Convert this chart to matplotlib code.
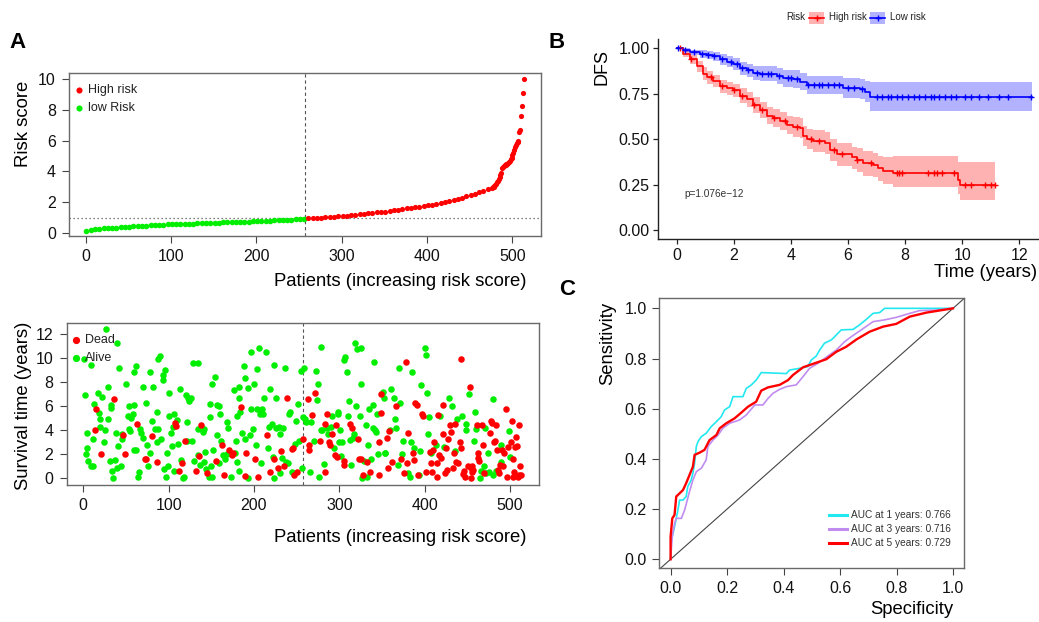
import numpy as np
import matplotlib
matplotlib.use('Agg')
import matplotlib.pyplot as plt
from matplotlib.lines import Line2D
from matplotlib.patches import Rectangle

plt.rcParams['font.family'] = ['Liberation Sans', 'DejaVu Sans']

RED = '#FF0000'
GREEN = '#00EE00'
BLUE = '#0000FF'
CYAN = '#22E8F0'
PURPLE = '#C08CF0'

# ---------------- Panel A (top): risk score ----------------
cutoff_patient = 257.5
cutoff_score = 0.93
risk_patient = list(range(1, 477, 5)) + list(range(477, 514))
risk_score = [0.14, 0.21, 0.24, 0.26, 0.28, 0.30, 0.32, 0.34, 0.36, 0.38,
              0.40, 0.42, 0.43, 0.45, 0.46, 0.48, 0.49, 0.51, 0.52, 0.54,
              0.55, 0.56, 0.57, 0.58, 0.59, 0.60, 0.61, 0.62, 0.63, 0.64,
              0.65, 0.66, 0.67, 0.68, 0.69, 0.70, 0.71, 0.72, 0.73, 0.74,
              0.75, 0.76, 0.77, 0.79, 0.80, 0.81, 0.83, 0.84, 0.86, 0.87,
              0.89, 0.91, 0.93, 0.95, 0.97, 0.99, 1.01, 1.03, 1.05, 1.07,
              1.09, 1.11, 1.14, 1.17, 1.20, 1.23, 1.26, 1.29, 1.32, 1.35,
              1.38, 1.42, 1.46, 1.50, 1.54, 1.58, 1.62, 1.66, 1.70, 1.74,
              1.79, 1.84, 1.89, 1.95, 2.01, 2.07, 2.14, 2.21, 2.29, 2.37,
              2.44, 2.53, 2.63, 2.74, 2.84, 2.93,
              2.95, 3.0, 3.05, 3.1, 3.2, 3.3, 3.4, 3.5, 3.6, 3.75, 3.9, 4.2, 4.3,
              4.35, 4.4, 4.4, 4.45, 4.5, 4.55, 4.6, 4.7, 4.8, 4.9, 5.05, 5.2,
              5.4, 5.6, 5.75, 5.85, 5.9, 6.0, 6.55, 6.7, 7.6, 8.25, 9.1, 10.0]

# ---------------- Panel A (bottom): survival status ----------------
alive_x = [1, 2, 4, 3, 5, 6, 9, 12, 9, 13, 12, 17, 19, 20, 22, 20, 24, 25, 27, 29, 29, 32, 33, 31, 34, 35,
           37, 38, 40, 42, 41, 40, 44, 46, 45, 50,
           52, 54, 54, 55, 56, 58, 59, 60, 62, 60, 62, 65, 64, 66, 68, 70, 70, 73, 75, 76, 78, 78, 81,
           82, 84, 86, 87, 88, 88, 90, 91, 93, 94, 96, 95, 97, 98, 100, 99,
           101, 103, 104, 105, 106, 106, 110, 111, 113, 115, 117, 118, 120, 121, 122, 123, 124, 126,
           127, 129, 130, 134, 134, 135, 137, 140, 141, 142, 143, 144, 147, 148, 149, 150, 151, 151, 152,
           154, 157, 157, 159, 159, 160, 161, 164, 166, 168, 169, 170, 172, 173, 177, 178, 179, 180,
           180, 182, 183, 183, 184, 186, 188, 189, 190, 193, 193, 195, 196, 197, 199,
           200, 202, 203, 204, 206, 207, 208, 209, 211, 212, 214, 217, 218, 219, 221, 222, 223, 223,
           226, 226, 229, 230, 231, 233, 234, 236, 237, 240, 241, 242, 245, 248, 249, 252, 253, 255, 256,
           258, 259, 260, 261, 266, 267, 270, 273, 274, 275, 276, 278, 279, 280, 282, 285, 287, 290,
           291, 294, 298, 299, 300,
           301, 302, 303, 306, 307, 309, 310, 311, 312, 314, 316, 317, 318, 320, 321, 324, 326, 325,
           327, 329, 331, 333, 334, 335, 337, 339, 340, 341, 342, 343, 344, 345,
           351, 352, 353, 354, 359, 361, 364, 365, 367, 369, 370, 371, 374, 375, 381, 383, 384, 385,
           388, 393, 394, 396, 400,
           402, 403, 404, 405, 407, 413, 418, 423, 429, 432, 436, 438, 444, 449, 449,
           452, 458, 459, 460, 465, 466, 469, 471, 472, 474, 475, 480, 480, 484, 489, 490, 499, 500]
alive_y = [9.9, 6.9, 3.8, 2.0, 2.5, 1.45, 1.0, 1.0, 9.4, 6.2, 3.3, 7.1, 5.4, 4.9, 6.8, 4.3, 3.0, 4.0, 12.4,
           7.6, 4.9, 6.1, 5.85, 1.45, 0.6, 0.0, 1.5, 3.8, 11.2, 9.15, 2.7, 0.85, 1.0, 3.7, 3.25, 7.8,
           5.2, 6.0, 4.1, 3.9, 5.0, 5.35, 6.1, 8.8, 9.3, 2.4, 2.4, 0.5, 0.1, 4.1, 3.8, 7.6, 3.35, 6.25,
           2.75, 1.0, 8.8, 2.1, 4.75, 7.6, 4.1, 3.0, 5.55, 4.1, 9.9, 10.2, 3.25, 8.6, 8.2, 9.0, 0.75,
           0.1, 2.15, 7.1, 1.0,
           5.2, 3.8, 2.7, 4.25, 5.35, 0.6, 4.85, 2.9, 7.45, 1.55, 0.05, 0.15, 6.9, 3.15, 4.7, 6.65,
           6.4, 6.7, 3.1, 9.6, 1.45, 9.6, 4.1, 1.95, 1.1, 3.85, 1.4, 4.1, 2.2, 0.8, 0.1, 6.2, 5.1, 1.0,
           0.1, 7.8, 2.35,
           8.45, 6.1, 3.6, 1.25, 6.0, 5.35, 3.1, 1.95, 1.65, 2.0, 4.65, 4.2, 2.1, 0.15, 7.35, 2.1, 3.1,
           1.4, 5.2, 0.6, 7.55, 6.7, 5.5, 3.8, 9.3, 3.3, 8.3, 7.5, 0.05, 3.6, 5.8, 10.5, 4.1,
           7.8, 2.75, 5.75, 9.1, 10.8, 5.35, 1.3, 5.75, 5.35, 6.65, 10.5, 2.55, 4.25, 7.45, 4.55, 1.8,
           0.05, 9.45, 4.2, 6.7, 4.25, 0.45, 3.7, 1.7, 4.2, 9.2, 1.4, 1.3, 5.35, 5.55, 0.55, 2.9, 4.75,
           6.2, 3.1, 8.95, 0.85,
           5.1, 9.2, 4.95, 4.65, 0.55, 4.7, 3.15, 8.9, 6.55, 7.8, 0.1, 4.0, 10.9, 4.05, 1.2, 4.2, 3.65,
           4.25, 5.2, 2.55, 5.35, 5.5, 3.0,
           4.05, 1.9, 3.05, 9.85, 10.1, 8.8, 5.2, 6.45, 3.2, 1.1, 3.35, 3.65, 11.2, 6.05, 10.75, 5.15,
           10.8, 7.8, 0.05, 1.45, 4.45, 0.1, 2.75, 5.75, 1.65, 6.1, 4.2, 9.65, 4.0, 3.85, 5.35, 2.0,
           7.15, 6.7, 2.1, 2.1, 4.0, 7.4, 6.65, 4.95, 4.2, 1.1, 9.2, 6.25, 2.0, 3.1, 0.45, 0.1, 3.05,
           8.8, 2.55, 0.3, 2.25, 7.75, 10.85,
           10.25, 7.05, 3.65, 5.1, 2.1, 2.75, 5.15, 2.6, 6.65, 6.05, 2.25, 4.95, 5.2, 4.0, 4.55,
           7.0, 3.1, 5.55, 4.1, 0.05, 0.65, 1.0, 4.2, 0.45, 2.15, 0.5, 6.6, 0.25, 0.65, 2.75, 1.4, 3.9, 1.8]
dead_x = [14, 15, 21, 36, 47, 49, 63, 72, 74, 80, 86,
          108, 109, 112, 116, 119, 132, 136, 138, 145,
          155, 163, 165, 171, 174, 176, 185, 189, 191,
          201, 205, 215, 219, 224, 228, 232, 235, 239, 244, 246, 247, 250,
          258, 263, 264, 265, 268, 272, 277, 283, 283, 286, 288, 289, 292, 295, 296, 297,
          305, 305, 313, 315, 322, 323, 325, 328, 332, 336, 346, 347, 349, 349,
          356, 357, 358, 362, 366, 372, 376, 378, 379, 380, 386, 387, 389, 391, 392, 397, 398,
          401, 406, 408, 409, 410, 411, 414, 415, 416, 417, 419, 421, 422, 424, 425, 426, 427, 430,
          431, 433, 434, 435, 437, 439, 441, 442, 443, 445, 446, 447,
          451, 453, 454, 454, 455, 456, 457, 461, 462, 463, 464, 467, 468, 470, 477, 478, 479, 481,
          482, 483, 485, 486, 487, 488, 491, 492, 493, 495, 497, 498, 501, 502, 503, 504, 505, 506,
          507, 508, 509, 510, 511, 512, 513]
dead_y = [4.0, 5.8, 2.0, 6.6, 3.6, 2.0, 4.5, 1.6, 1.6, 3.5, 1.35,
          4.6, 4.35, 0.65, 1.25, 3.1, 0.65, 1.9, 4.4, 0.45,
          1.45, 2.75, 0.25, 2.35, 1.95, 2.15, 5.9, 0.2, 2.15,
          1.6, 0.15, 3.6, 0.5, 1.6, 0.85, 2.25, 1.0, 6.7, 2.45, 2.5, 0.3, 0.5,
          3.3, 6.6, 2.35, 2.75, 5.25, 7.1, 3.1, 0.5, 4.55, 5.35, 3.05, 2.75, 3.65, 1.95, 4.45, 1.8,
          1.45, 1.1, 4.55, 4.2, 3.3, 1.65, 1.65, 0.3, 1.4, 0.55, 0.25, 3.05, 5.4, 7.0,
          3.35, 0.9, 3.9, 1.4, 6.05, 1.65, 0.45, 9.7, 1.25, 3.75, 2.15, 1.55, 6.25, 6.1, 0.25, 5.35, 5.2,
          0.55, 2.2, 1.3, 0.5, 2.35, 3.05, 1.3, 0.15, 5.25, 1.95, 1.7, 6.1, 3.7, 0.45, 2.5, 0.7, 3.3, 4.4,
          3.85, 0.9, 2.1, 4.5, 1.35, 1.25, 3.05, 9.9, 2.5, 0.35, 0.6, 0.1,
          1.0, 7.55, 0.85, 0.05, 0.55, 1.0, 0.7, 4.4, 1.7, 2.1, 1.45, 4.4, 2.75, 0.45, 3.75, 4.8, 4.6, 3.05,
          3.1, 4.45, 2.35, 0.7, 0.45, 1.1, 2.35, 1.0, 2.15, 5.75, 0.1, 2.6, 3.05, 4.75, 1.6, 0.1, 0.55, 2.6,
          3.45, 2.7, 0.15, 4.4, 0.3, 1.0, 0.3]

# ---------------- Panel B: Kaplan-Meier DFS ----------------
high_t = [0, 0.23, 0.47, 0.70, 0.93, 1.05, 1.28, 1.52, 1.75, 1.98, 2.22, 2.45, 2.68, 2.92, 3.15, 3.39,
          3.62, 3.85, 4.09, 4.32, 4.44, 4.55, 4.79, 5.19, 5.37, 5.60, 6.13, 6.30, 6.54, 6.89, 7.06, 7.24,
          7.59, 9.69, 9.86, 9.92, 11.15]
high_s = [1.0, 0.97, 0.94, 0.90, 0.86, 0.84, 0.82, 0.79, 0.78, 0.77, 0.74, 0.72, 0.69, 0.66, 0.63, 0.615,
          0.60, 0.58, 0.565, 0.56, 0.52, 0.50, 0.49, 0.48, 0.44, 0.42, 0.40, 0.385, 0.367, 0.358, 0.34, 0.327,
          0.316, 0.316, 0.275, 0.251, 0.251]
high_lo = [1.0, 0.95, 0.915, 0.87, 0.825, 0.805, 0.785, 0.755, 0.745, 0.735, 0.70, 0.68, 0.645, 0.615,
           0.585, 0.565, 0.55, 0.53, 0.51, 0.505, 0.465, 0.445, 0.43, 0.42, 0.38, 0.355, 0.335, 0.32,
           0.30, 0.29, 0.27, 0.255, 0.24, 0.24, 0.20, 0.165, 0.165]
high_hi = [1.0, 0.99, 0.965, 0.93, 0.895, 0.875, 0.855, 0.825, 0.815, 0.805, 0.78, 0.76, 0.735, 0.705,
           0.675, 0.665, 0.65, 0.63, 0.62, 0.615, 0.575, 0.555, 0.55, 0.54, 0.50, 0.48, 0.46, 0.45,
           0.435, 0.425, 0.41, 0.40, 0.41, 0.41, 0.375, 0.375, 0.375]
low_t = [0, 0.23, 0.47, 0.82, 1.05, 1.28, 1.52, 1.75, 1.98, 2.22, 2.45, 2.68, 2.92, 3.50, 3.74, 4.09, 4.32,
         4.55, 5.84, 6.42, 6.60, 6.77, 12.43]
low_s = [1.0, 0.99, 0.978, 0.967, 0.963, 0.958, 0.94, 0.927, 0.914, 0.89, 0.88, 0.866, 0.859, 0.848,
         0.835, 0.83, 0.817, 0.798, 0.78, 0.774, 0.761, 0.734, 0.734]
low_lo = [1.0, 0.98, 0.962, 0.945, 0.94, 0.932, 0.91, 0.895, 0.88, 0.855, 0.843, 0.826, 0.818, 0.803,
          0.789, 0.784, 0.768, 0.748, 0.728, 0.72, 0.705, 0.657, 0.657]
low_hi = [1.0, 1.0, 0.993, 0.988, 0.985, 0.982, 0.97, 0.958, 0.946, 0.925, 0.916, 0.905, 0.9, 0.892,
          0.882, 0.878, 0.866, 0.85, 0.835, 0.83, 0.82, 0.817, 0.817]
high_censor = [0.1, 0.5, 1.2, 1.6, 2.0, 2.3, 2.7, 3.0, 3.4, 3.8, 4.2, 4.7, 5.0, 5.5, 5.8, 6.3, 6.8, 7.7,
               7.8, 7.9, 8.8, 9.0, 9.1, 9.3, 9.7, 10.1, 10.3, 10.8, 11.0, 11.15]
low_censor = [0.05, 0.3, 0.6, 0.9, 1.1, 1.3, 1.6, 1.9, 2.1, 2.3, 2.5, 2.8, 3.0, 3.2, 3.3, 3.6, 3.9, 4.0,
              4.2, 4.6, 4.8, 5.0, 5.1, 5.3, 5.5, 5.7, 6.0, 6.2, 6.5, 7.0, 7.2, 7.4, 7.5, 7.7, 7.9, 8.1,
              8.3, 8.5, 8.7, 8.9, 9.0, 9.2, 9.4, 9.6, 9.8, 10.1, 10.3, 10.6, 10.9, 11.3, 11.6, 12.4]
p_text = 'p=1.076e\u221212'

# ---------------- Panel C: time-dependent ROC ----------------
roc1_fpr = [0, 0.002, 0.008, 0.014, 0.02, 0.026, 0.032, 0.044, 0.055, 0.061, 0.073, 0.079, 0.085, 0.091,
            0.097, 0.109, 0.126, 0.144, 0.162, 0.179, 0.191, 0.209, 0.221, 0.256, 0.268, 0.286, 0.303,
            0.321, 0.41, 0.421, 0.457, 0.486, 0.498, 0.516, 0.528, 0.545, 0.569, 0.587, 0.604, 0.646,
            0.669, 0.693, 0.717, 0.740, 0.758, 0.799, 1.0]
roc1_tpr = [0, 0.077, 0.10, 0.13, 0.163, 0.197, 0.236, 0.236, 0.25, 0.29, 0.316, 0.343, 0.383, 0.449,
            0.469, 0.489, 0.502, 0.529, 0.548, 0.568, 0.595, 0.608, 0.648, 0.648, 0.681, 0.695, 0.714,
            0.744, 0.740, 0.754, 0.761, 0.768, 0.794, 0.81, 0.834, 0.861, 0.874, 0.894, 0.914, 0.916,
            0.934, 0.956, 0.98, 0.983, 1.0, 1.0, 1.0]
roc3_fpr = [0, 0.006, 0.014, 0.02, 0.038, 0.05, 0.059, 0.067, 0.079, 0.091, 0.109, 0.126, 0.132, 0.150,
            0.168, 0.185, 0.209, 0.244, 0.268, 0.298, 0.327, 0.345, 0.362, 0.386, 0.41, 0.445, 0.469,
            0.492, 0.522, 0.551, 0.587, 0.616, 0.640, 0.675, 0.717, 0.758, 0.799, 0.847, 0.882, 0.941, 1.0]
roc3_tpr = [0, 0.09, 0.143, 0.163, 0.163, 0.197, 0.236, 0.27, 0.316, 0.349, 0.363, 0.396, 0.449, 0.475,
            0.495, 0.522, 0.542, 0.555, 0.575, 0.615, 0.615, 0.641, 0.661, 0.677, 0.688, 0.695, 0.728,
            0.761, 0.781, 0.805, 0.834, 0.867, 0.887, 0.914, 0.947, 0.954, 0.964, 0.98, 0.991, 0.993, 1.0]
roc5_fpr = [0, 0, 0.006, 0.014, 0.02, 0.032, 0.044, 0.055, 0.067, 0.079, 0.085, 0.103, 0.120, 0.138,
            0.162, 0.174, 0.197, 0.227, 0.250, 0.274, 0.303, 0.321, 0.345, 0.386, 0.416, 0.433, 0.469,
            0.510, 0.551, 0.587, 0.622, 0.658, 0.705, 0.752, 0.799, 0.847, 0.906, 1.0]
roc5_tpr = [0, 0.09, 0.163, 0.177, 0.25, 0.263, 0.276, 0.303, 0.336, 0.369, 0.416, 0.425, 0.436, 0.475,
            0.495, 0.522, 0.542, 0.562, 0.584, 0.608, 0.628, 0.672, 0.685, 0.695, 0.714, 0.734, 0.765,
            0.781, 0.797, 0.827, 0.847, 0.876, 0.907, 0.927, 0.938, 0.967, 0.983, 1.0]
roc_labels = ['AUC at 1 years: 0.766', 'AUC at 3 years: 0.716', 'AUC at 5 years: 0.729']

# =====================================================================
W, H = 1039, 622
fig = plt.figure(figsize=(W / 100, H / 100), dpi=100)


def ax_at(l, t, r, b):
    return fig.add_axes([l / W, 1 - b / H, (r - l) / W, (b - t) / H])


def fx(x):
    return x / W


def fy(y):
    return 1 - y / H


def ftext(x, y, s, **kw):
    fig.text(fx(x), fy(y), s, **kw)


NARROW = ['Liberation Sans Narrow', 'Liberation Sans', 'DejaVu Sans']
FRAME = '#6a6a6a'
TICKC = '#444444'


def r_style(ax):
    for sp in ax.spines.values():
        sp.set_color(FRAME)
        sp.set_linewidth(1.0)
    ax.tick_params(direction='out', length=5, width=0.8, color=TICKC, labelsize=11.5,
                   labelcolor='#111111', pad=4.5)


# ---- A top
ax1 = ax_at(69, 73, 541, 235.5)
r_style(ax1)
rp = np.array(risk_patient)
rsc = np.array(risk_score)
lowmask = rp < cutoff_patient
ax1.scatter(rp[lowmask], rsc[lowmask], s=16, color=GREEN, linewidths=0, zorder=3)
ax1.scatter(rp[~lowmask], rsc[~lowmask], s=14, color=RED, linewidths=0, zorder=3)
ax1.axvline(cutoff_patient, color='#555555', lw=0.8, ls=(0, (3, 2.5)), zorder=2)
ax1.axhline(cutoff_score, color='#555555', lw=0.9, ls=(0, (1, 2.2)), zorder=2)
ax1.set_xlim(-19.48, 533.48)
ax1.set_ylim(-0.18, 10.41)
ax1.set_xticks([0, 100, 200, 300, 400, 500])
ax1.set_yticks([0, 2, 4, 6, 8, 10])
for yy, col, lab in [(89.5, RED, 'High risk'), (108, GREEN, 'low Risk')]:
    fig.add_artist(Line2D([fx(79)], [fy(yy)], marker='o', ms=4.4, color=col, mew=0,
                          transform=fig.transFigure))
    ftext(88, yy, lab, fontsize=9, family=NARROW, va='center', ha='left', color='#222222')
ftext(24, 124, 'Risk score', rotation=90, fontsize=13.3, ha='center', va='center')
ftext(527, 282, 'Patients (increasing risk score)', fontsize=13.3, ha='right', va='center')

# ---- A bottom
ax2 = ax_at(66.6, 322.5, 538.6, 484.5)
r_style(ax2)
ax2.scatter(alive_x, alive_y, s=22, color=GREEN, linewidths=0, zorder=3)
ax2.scatter(dead_x, dead_y, s=22, color=RED, linewidths=0, zorder=3)
ax2.axvline(cutoff_patient, color='#555555', lw=0.8, ls=(0, (3, 2.5)), zorder=2)
ax2.set_xlim(-19.48, 533.48)
ax2.set_ylim(-0.5, 12.94)
ax2.set_xticks([0, 100, 200, 300, 400, 500])
ax2.set_yticks([0, 2, 4, 6, 8, 10, 12])
for yy, col, lab in [(340.3, RED, 'Dead'), (358.4, GREEN, 'Alive')]:
    fig.add_artist(Line2D([fx(75.6)], [fy(yy)], marker='o', ms=5.2, color=col, mew=0,
                          transform=fig.transFigure))
    ftext(84.5, yy, lab, fontsize=9, family=NARROW, va='center', ha='left', color='#222222')
ftext(24, 406, 'Survival time (years)', rotation=90, fontsize=13.3, ha='center', va='center')
ftext(527, 537, 'Patients (increasing risk score)', fontsize=13.3, ha='right', va='center')

# ---- B
ax3 = ax_at(658, 39.2, 1051, 239.3)
for s in ['top', 'right']:
    ax3.spines[s].set_visible(False)
for s in ['left', 'bottom']:
    ax3.spines[s].set_color('#222222')
    ax3.spines[s].set_linewidth(1.0)
ax3.tick_params(direction='out', length=3.5, width=0.9, color='#222222', labelsize=11.5,
                labelcolor='#111111', pad=2.5)
ax3.fill_between(high_t, high_lo, high_hi, step='post', color=RED, alpha=0.3, lw=0)
ax3.fill_between(low_t, low_lo, low_hi, step='post', color=BLUE, alpha=0.3, lw=0)
ax3.step(high_t, high_s, where='post', color=RED, lw=1.2)
ax3.step(low_t, low_s, where='post', color=BLUE, lw=1.2)
hs_arr = np.array(high_s)
ls_arr = np.array(low_s)
hc = np.array(high_censor)
lc = np.array(low_censor)
hc_y = hs_arr[np.searchsorted(high_t, hc, side='right') - 1]
lc_y = ls_arr[np.searchsorted(low_t, lc, side='right') - 1]
ax3.plot(hc, hc_y, ls='none', marker='+', ms=5, mew=1.0, color=RED)
ax3.plot(lc, lc_y, ls='none', marker='+', ms=5, mew=1.0, color=BLUE)
ax3.set_xlim(-0.655, 13.11)
ax3.set_ylim(-0.05, 1.05)
ax3.set_xticks([0, 2, 4, 6, 8, 10, 12])
ax3.set_yticks([0, 0.25, 0.5, 0.75, 1.0])
ax3.set_yticklabels(['0.00', '0.25', '0.50', '0.75', '1.00'])
ftext(684, 194, p_text, fontsize=7.3, ha='left', va='center', color='#333333')
ftext(602, 67, 'DFS', rotation=90, fontsize=13, ha='center', va='center')
ftext(1037, 273, 'Time (years)', fontsize=13.3, ha='right', va='center')
# legend
ftext(786, 17.5, 'Risk', fontsize=7, ha='left', va='center', color='#222222')
for x0, col, lab in [(809, RED, 'High risk'), (870, BLUE, 'Low risk')]:
    fig.add_artist(Rectangle((fx(x0), fy(23.5)), 15 / W, 11.5 / H, transform=fig.transFigure,
                             facecolor=col, alpha=0.3, edgecolor='none'))
    fig.add_artist(Line2D([fx(x0), fx(x0 + 15)], [fy(17.5), fy(17.5)], color=col, lw=1.2,
                          transform=fig.transFigure))
    fig.add_artist(Line2D([fx(x0 + 7.5)], [fy(17.5)], marker='+', ms=5, mew=1.0, color=col,
                          transform=fig.transFigure))
    ftext(x0 + 20, 17.5, lab, fontsize=7, ha='left', va='center', color='#222222')

# ---- C
ax4 = ax_at(659.3, 298.3, 964.3, 568.3)
r_style(ax4)
ax4.tick_params(pad=4)
ax4.plot([-0.04, 1.04], [-0.04, 1.04], color='#444444', lw=0.8)
ax4.plot(roc1_fpr, roc1_tpr, color=CYAN, lw=1.2)
ax4.plot(roc3_fpr, roc3_tpr, color=PURPLE, lw=1.2)
ax4.plot(roc5_fpr, roc5_tpr, color=RED, lw=1.7)
ax4.set_xlim(-0.04, 1.04)
ax4.set_ylim(-0.036, 1.04)
ax4.set_xticks([0, 0.2, 0.4, 0.6, 0.8, 1.0])
ax4.set_yticks([0, 0.2, 0.4, 0.6, 0.8, 1.0])
ax4.set_xticklabels(['0.0', '0.2', '0.4', '0.6', '0.8', '1.0'])
ax4.set_yticklabels(['0.0', '0.2', '0.4', '0.6', '0.8', '1.0'])
for yy, col, lab in zip([515, 529, 542.7], [CYAN, PURPLE, RED], roc_labels):
    fig.add_artist(Line2D([fx(829), fx(847)], [fy(yy), fy(yy)], color=col, lw=2.2,
                          transform=fig.transFigure))
    ftext(850.7, yy, lab, fontsize=7.3, ha='left', va='center', color='#333333')
ftext(608, 343.5, 'Sensitivity', rotation=90, fontsize=13.3, ha='center', va='center')
ftext(911.5, 610, 'Specificity', fontsize=13.3, ha='center', va='center')

# panel letters
ftext(17.5, 43, 'A', fontsize=16, fontweight='bold', ha='center', va='center')
ftext(557, 42.5, 'B', fontsize=16, fontweight='bold', ha='center', va='center')
ftext(567.5, 289.5, 'C', fontsize=16, fontweight='bold', ha='center', va='center')

fig.savefig('out.png', dpi=100)
